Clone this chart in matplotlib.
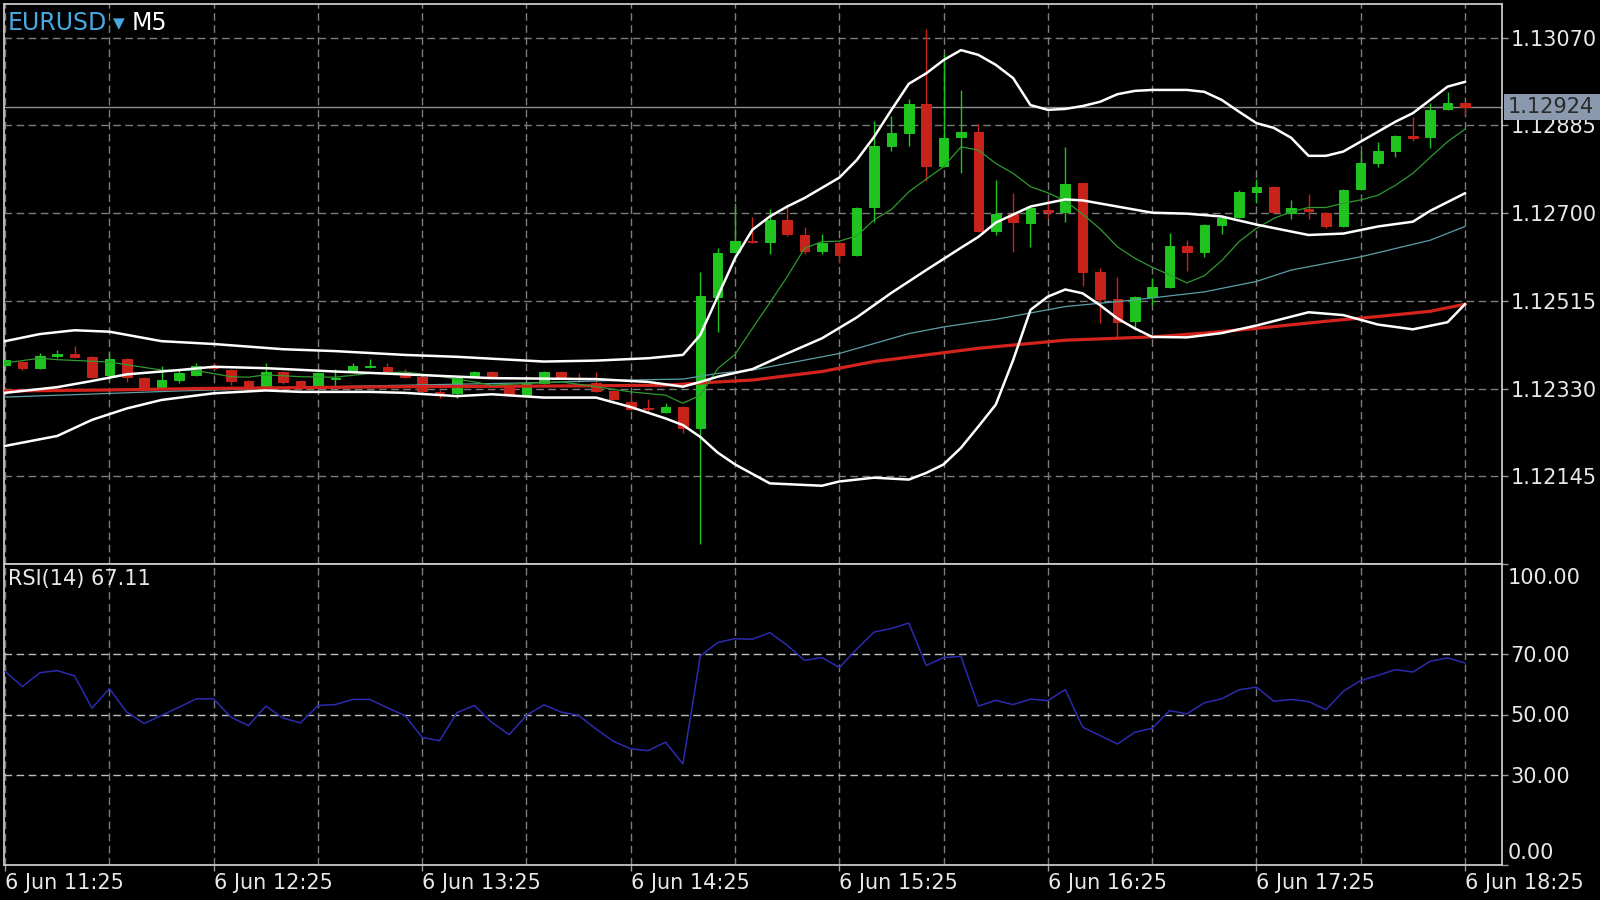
import matplotlib
matplotlib.use('Agg')
import matplotlib.pyplot as plt
import numpy as np
from matplotlib.patches import Rectangle

# ---------------- data ----------------
OPEN = [1.12380, 1.12386, 1.12373, 1.12399, 1.12403, 1.12397, 1.12359, 1.12392, 1.12352, 1.12331,
        1.12348, 1.12359, 1.12378, 1.12369, 1.12346, 1.12333, 1.12365, 1.12346, 1.12336, 1.12351,
        1.12367, 1.12375, 1.12375, 1.12363, 1.12354, 1.12322, 1.12321, 1.12356, 1.12365, 1.12333,
        1.12314, 1.12342, 1.12365, 1.12353, 1.12342, 1.12325, 1.12302, 1.12289, 1.12280, 1.12291,
        1.12246, 1.12523, 1.12618, 1.12641, 1.12639, 1.12686, 1.12654, 1.12620, 1.12637, 1.12612,
        1.12712, 1.12842, 1.12869, 1.12930, 1.12800, 1.12860, 1.12871, 1.12662, 1.12698, 1.12680,
        1.12707, 1.12702, 1.12763, 1.12576, 1.12519, 1.12472, 1.12523, 1.12544, 1.12631, 1.12618,
        1.12675, 1.12692, 1.12744, 1.12755, 1.12701, 1.12708, 1.12701, 1.12672, 1.12751, 1.12806,
        1.12831, 1.12863, 1.12860, 1.12920, 1.12933]
HIGH = [1.12394, 1.12388, 1.12405, 1.12411, 1.12420, 1.12399, 1.12407, 1.12394, 1.12354, 1.12378,
        1.12371, 1.12384, 1.12384, 1.12371, 1.12348, 1.12384, 1.12367, 1.12348, 1.12365, 1.12371,
        1.12384, 1.12392, 1.12384, 1.12371, 1.12357, 1.12327, 1.12354, 1.12367, 1.12367, 1.12335,
        1.12344, 1.12367, 1.12367, 1.12363, 1.12365, 1.12327, 1.12317, 1.12308, 1.12299, 1.12293,
        1.12576, 1.12627, 1.12722, 1.12692, 1.12709, 1.12719, 1.12671, 1.12656, 1.12639, 1.12713,
        1.12894, 1.12905, 1.12941, 1.13088, 1.13036, 1.12960, 1.12888, 1.12770, 1.12743, 1.12713,
        1.12728, 1.12839, 1.12764, 1.12584, 1.12565, 1.12525, 1.12563, 1.12658, 1.12643, 1.12677,
        1.12696, 1.12749, 1.12772, 1.12757, 1.12728, 1.12740, 1.12702, 1.12751, 1.12831, 1.12850,
        1.12865, 1.12903, 1.12932, 1.12956, 1.12935]
LOW = [1.12375, 1.12369, 1.12371, 1.12394, 1.12394, 1.12352, 1.12350, 1.12344, 1.12329, 1.12329,
       1.12342, 1.12356, 1.12371, 1.12338, 1.12323, 1.12331, 1.12340, 1.12333, 1.12333, 1.12333,
       1.12365, 1.12373, 1.12363, 1.12352, 1.12323, 1.12310, 1.12310, 1.12354, 1.12354, 1.12314,
       1.12312, 1.12340, 1.12352, 1.12344, 1.12323, 1.12306, 1.12285, 1.12278, 1.12278, 1.12236,
       1.12002, 1.12449, 1.12616, 1.12637, 1.12614, 1.12652, 1.12614, 1.12614, 1.12595, 1.12609,
       1.12681, 1.12831, 1.12842, 1.12768, 1.12797, 1.12785, 1.12660, 1.12654, 1.12618, 1.12629,
       1.12690, 1.12681, 1.12546, 1.12468, 1.12439, 1.12453, 1.12506, 1.12542, 1.12578, 1.12608,
       1.12656, 1.12690, 1.12722, 1.12700, 1.12688, 1.12688, 1.12669, 1.12671, 1.12749, 1.12797,
       1.12819, 1.12852, 1.12838, 1.12918, 1.12907]
CLOSE = [1.12390, 1.12373, 1.12399, 1.12403, 1.12397, 1.12354, 1.12392, 1.12354, 1.12331, 1.12348,
         1.12363, 1.12378, 1.12373, 1.12346, 1.12331, 1.12365, 1.12344, 1.12336, 1.12363, 1.12353,
         1.12378, 1.12377, 1.12365, 1.12354, 1.12325, 1.12320, 1.12352, 1.12365, 1.12356, 1.12317,
         1.12342, 1.12365, 1.12354, 1.12351, 1.12325, 1.12308, 1.12287, 1.12287, 1.12291, 1.12247,
         1.12525, 1.12616, 1.12641, 1.12639, 1.12686, 1.12656, 1.12620, 1.12637, 1.12612, 1.12711,
         1.12842, 1.12869, 1.12930, 1.12800, 1.12859, 1.12871, 1.12662, 1.12698, 1.12681, 1.12711,
         1.12702, 1.12761, 1.12576, 1.12519, 1.12470, 1.12523, 1.12544, 1.12631, 1.12618, 1.12675,
         1.12690, 1.12744, 1.12755, 1.12702, 1.12711, 1.12704, 1.12672, 1.12749, 1.12806, 1.12831,
         1.12863, 1.12858, 1.12918, 1.12933, 1.12924]

UPPER_X = [0, 2, 4, 6, 9, 12, 16, 19, 23, 26, 29, 31, 34, 37, 39, 40, 41, 42, 43, 44, 45, 46, 48,
           49, 50, 51, 52, 53, 54, 55, 56, 57, 58, 59, 60, 61, 62, 63, 64, 65, 66, 67, 68, 69, 70,
           71, 72, 73, 74, 75, 76, 77, 78, 79, 80, 81, 82, 83, 84]
UPPER_Y = [1.12430, 1.12445, 1.12453, 1.12450, 1.12430, 1.12424, 1.12413, 1.12409, 1.12401, 1.12397,
           1.12391, 1.12387, 1.12389, 1.12394, 1.12401, 1.12443, 1.12524, 1.12605, 1.12665, 1.12693,
           1.12714, 1.12732, 1.12775, 1.12812, 1.12861, 1.12918, 1.12973, 1.12995, 1.13023, 1.13044,
           1.13034, 1.13013, 1.12985, 1.12928, 1.12918, 1.12920, 1.12926, 1.12935, 1.12951, 1.12958,
           1.12960, 1.12960, 1.12960, 1.12956, 1.12939, 1.12914, 1.12890, 1.12880, 1.12859, 1.12821,
           1.12821, 1.12830, 1.12851, 1.12872, 1.12893, 1.12911, 1.12939, 1.12967, 1.12977]
MIDDLE_X = [0, 3, 5, 7, 10, 12, 15, 19, 23, 28, 34, 37, 39, 40, 41, 43, 45, 47, 48, 49, 51, 53, 55,
            56, 57, 59, 61, 62, 64, 66, 68, 70, 72, 75, 77, 79, 81, 82, 84]
MIDDLE_Y = [1.12321, 1.12333, 1.12346, 1.12360, 1.12369, 1.12376, 1.12373, 1.12366, 1.12360, 1.12352,
            1.12350, 1.12344, 1.12334, 1.12344, 1.12355, 1.12371, 1.12404, 1.12436, 1.12458, 1.12480,
            1.12532, 1.12580, 1.12627, 1.12650, 1.12680, 1.12714, 1.12729, 1.12727, 1.12714, 1.12701,
            1.12699, 1.12693, 1.12676, 1.12654, 1.12657, 1.12672, 1.12682, 1.12705, 1.12742]
LOWER_X = [0, 3, 5, 7, 9, 12, 15, 17, 21, 23, 26, 28, 31, 34, 36, 38, 39, 40, 41, 42, 44, 47, 48,
           50, 52, 53, 54, 55, 56, 57, 58, 59, 60, 61, 62, 63, 64, 65, 66, 68, 70, 72, 75, 77, 79,
           81, 83, 84]
LOWER_Y = [1.12209, 1.12230, 1.12264, 1.12288, 1.12306, 1.12320, 1.12326, 1.12323, 1.12323, 1.12321,
           1.12314, 1.12318, 1.12311, 1.12311, 1.12291, 1.12267, 1.12253, 1.12228, 1.12195, 1.12170,
           1.12130, 1.12125, 1.12134, 1.12142, 1.12138, 1.12152, 1.12170, 1.12205, 1.12250, 1.12296,
           1.12390, 1.12496, 1.12524, 1.12539, 1.12531, 1.12506, 1.12478, 1.12457, 1.12439, 1.12438,
           1.12447, 1.12463, 1.12491, 1.12485, 1.12465, 1.12455, 1.12470, 1.12508]
GREEN_X = [0, 2, 3, 6, 9, 11, 13, 14, 15, 17, 19, 21, 23, 25, 27, 28, 30, 32, 34, 36, 38, 39, 40,
           41, 42, 43, 44, 45, 46, 47, 48, 49, 50, 51, 52, 53, 54, 55, 56, 57, 58, 59, 60, 61, 62,
           63, 64, 65, 66, 67, 68, 69, 70, 71, 72, 73, 74, 75, 76, 77, 78, 79, 80, 81, 82, 83, 84]
GREEN_Y = [1.12384, 1.12394, 1.12391, 1.12386, 1.12369, 1.12368, 1.12355, 1.12354, 1.12359, 1.12355,
           1.12354, 1.12362, 1.12365, 1.12356, 1.12344, 1.12337, 1.12341, 1.12344, 1.12334, 1.12323,
           1.12316, 1.12299, 1.12316,
           1.12372, 1.12402, 1.12457, 1.12511, 1.12566, 1.12626, 1.12640, 1.12641, 1.12652, 1.12686,
           1.12708, 1.12745, 1.12772, 1.12798, 1.12840, 1.12833, 1.12805, 1.12784, 1.12756, 1.12743,
           1.12726, 1.12698, 1.12667, 1.12629, 1.12605, 1.12586, 1.12570, 1.12553, 1.12568, 1.12600,
           1.12640, 1.12668, 1.12689, 1.12703, 1.12712, 1.12712, 1.12721, 1.12728, 1.12738, 1.12759,
           1.12784, 1.12818, 1.12851, 1.12877]
TEAL_X = [0, 10, 20, 30, 36, 39, 41, 43, 46, 48, 50, 52, 54, 56, 57, 61, 65, 69, 72, 74, 78, 82, 84]
TEAL_Y = [1.12312, 1.12325, 1.12335, 1.12342, 1.12348, 1.12350, 1.12362, 1.12369, 1.12390, 1.12404,
          1.12425, 1.12446, 1.12460, 1.12471, 1.12476, 1.12503, 1.12517, 1.12534, 1.12556, 1.12580,
          1.12608, 1.12643, 1.12672]
RED_X = [0, 6, 11, 17, 23, 30, 38, 41, 43, 47, 50, 53, 56, 61, 66, 69, 72, 76, 79, 82, 84]
RED_Y = [1.12325, 1.12327, 1.12330, 1.12332, 1.12334, 1.12335, 1.12337, 1.12344, 1.12348, 1.12366,
         1.12387, 1.12401, 1.12415, 1.12432, 1.12439, 1.12447, 1.12457, 1.12472, 1.12482, 1.12493,
         1.12508]
RSI = [64.3, 59.3, 63.9, 64.6, 62.8, 52.1, 58.6, 50.8, 47.0, 49.7,
       52.4, 55.2, 55.2, 49.1, 46.3, 52.8, 48.8, 47.2, 53.0, 53.3,
       55.0, 55.0, 52.2, 49.7, 42.4, 41.3, 50.6, 53.0, 47.4, 43.3,
       49.7, 53.2, 50.8, 49.7, 45.2, 41.1, 38.6, 38.0, 40.8, 33.6,
       69.4, 73.9, 75.2, 75.0, 77.2, 73.0, 68.0, 68.9, 65.6, 71.7,
       77.4, 78.6, 80.4, 66.3, 68.9, 69.3, 52.8, 54.7, 53.3, 55.1,
       54.6, 58.3, 45.8, 43.0, 40.2, 44.1, 45.4, 51.3, 50.2, 53.9,
       55.2, 58.2, 59.1, 54.4, 55.0, 54.3, 51.6, 57.7, 61.3, 63.0,
       64.9, 64.1, 67.7, 68.8, 67.11]

PRICE_LEVELS = [1.12145, 1.12330, 1.12515, 1.12700, 1.12885, 1.13070]
RSI_LEVELS = [30, 50, 70]
LAST_PRICE = 1.12924
TIME_LABELS = ['6 Jun 11:25', '6 Jun 12:25', '6 Jun 13:25', '6 Jun 14:25',
               '6 Jun 15:25', '6 Jun 16:25', '6 Jun 17:25', '6 Jun 18:25']

# ---------------- style ----------------
BG = 'black'
UP_C = '#1fc41f'
DN_C = '#c8231b'
GRID_C = '#7c7c7c'
FRAME_C = '#c8c8c8'
TXT_C = '#e8e8e8'
DASH = (0, (5.5, 3.2))

W, H = 1600, 900
fig = plt.figure(figsize=(16, 9), dpi=100, facecolor=BG)


def fx(px):
    return px / W


def fy(py):
    return 1 - py / H


L, R = 3.5, 1502
T_MAIN, B_MAIN, B_RSI = 4, 564, 865
ax = fig.add_axes([fx(L), fy(B_MAIN), (R - L) / W, (B_MAIN - T_MAIN) / H])
ax2 = fig.add_axes([fx(L), fy(B_RSI), (R - L) / W, (B_RSI - B_MAIN) / H])

XLIM = (-0.092, 86.13)
for a in (ax, ax2):
    a.set_facecolor(BG)
    a.set_xlim(*XLIM)
    for s in a.spines.values():
        s.set_color(FRAME_C)
        s.set_linewidth(1.3)
    for i in range(0, 85, 6):
        a.axvline(i, color=GRID_C, lw=1.0, ls=DASH, zorder=0.5)

# ---------------- main panel ----------------
ax.set_ylim(1.119599, 1.131413)
for lev in PRICE_LEVELS:
    ax.axhline(lev, color=GRID_C, lw=1.0, ls=DASH, zorder=0.5)
ax.axhline(LAST_PRICE, color='#8e8e8e', lw=1.0, zorder=1)

o = np.array(OPEN); h = np.array(HIGH); l = np.array(LOW); c = np.array(CLOSE)
x = np.arange(len(o))
cols = np.where(c >= o, UP_C, DN_C)
ax.vlines(x, l, h, colors=cols, lw=1.0, zorder=2)
ax.bar(x, np.abs(c - o), bottom=np.minimum(o, c), width=0.55, color=cols,
       edgecolor=cols, linewidth=0.7, zorder=3)

ax.plot(TEAL_X, TEAL_Y, color='#5c9fa8', lw=0.9, zorder=4)
ax.plot(RED_X, RED_Y, color='#d4231c', lw=2.3, zorder=4)
ax.plot(GREEN_X, GREEN_Y, color='#2f9a2f', lw=0.9, zorder=5)
for xs, ys in ((UPPER_X, UPPER_Y), (MIDDLE_X, MIDDLE_Y), (LOWER_X, LOWER_Y)):
    ax.plot(xs, ys, color='white', lw=1.8, zorder=6, solid_joinstyle='round')

ax.yaxis.tick_right()
ax.set_yticks(PRICE_LEVELS, labels=[f'{v:.5f}' for v in PRICE_LEVELS])
ax.tick_params(axis='y', colors='#9a9a9a', labelcolor=TXT_C, length=4, width=1,
               pad=2, labelsize=15)
ax.tick_params(axis='x', bottom=False, labelbottom=False)

# ---------------- RSI panel ----------------
ax2.set_ylim(0, 100)
for lev in RSI_LEVELS:
    ax2.axhline(lev, color='#bdbdbd', lw=1.0, ls=DASH, zorder=0.5)
ax2.plot(np.arange(len(RSI)), RSI, color='#2b2bb0', lw=1.1, zorder=3)
ax2.yaxis.tick_right()
ax2.set_yticks([0, 30, 50, 70, 100], labels=['', '30.00', '50.00', '70.00', ''])
ax2.tick_params(axis='y', colors='#9a9a9a', labelcolor=TXT_C, length=4, width=1,
                pad=2, labelsize=15)
ax2.set_xticks(range(0, 85, 12), labels=TIME_LABELS)
ax2.tick_params(axis='x', colors='#9a9a9a', labelcolor=TXT_C, length=4, width=1,
                pad=2, labelsize=15)
plt.setp(ax2.get_xticklabels(), ha='left')

fig.text(fx(1508), fy(578), '100.00', color=TXT_C, fontsize=15, va='center')
fig.text(fx(1508), fy(853), '0.00', color=TXT_C, fontsize=15, va='center')

# ---------------- titles ----------------
fig.text(fx(8), fy(22.5), 'EURUSD', color='#4aa8e0', fontsize=17, va='center', ha='left')
fig.text(fx(113), fy(23.5), '\u25BC', color='#4aa8e0', fontsize=11, va='center', ha='left')
fig.text(fx(132), fy(22.5), 'M5', color='white', fontsize=17, va='center', ha='left')
fig.text(fx(8), fy(578.5), 'RSI(14) 67.11', color=TXT_C, fontsize=15, va='center', ha='left')

# current price tag
fig.add_artist(Rectangle((fx(1504), fy(119.5)), (1600 - 1504) / W, 25.5 / H,
                         transform=fig.transFigure, facecolor='#8a99ad',
                         edgecolor='none', zorder=5))
fig.text(fx(1508), fy(107), f'{LAST_PRICE:.5f}', color='#2a2a2a', fontsize=15,
         va='center', ha='left', zorder=6)

fig.savefig('out.png', dpi=100, facecolor=BG)
